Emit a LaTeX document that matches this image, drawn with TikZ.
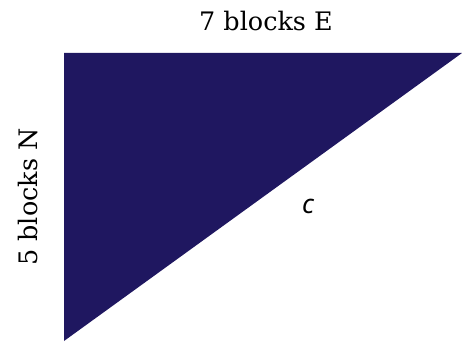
\documentclass[tikz,border=0pt]{standalone}
\usepackage{fontspec}
\setmainfont{DejaVu Serif}
\newfontfamily\hypfont{Noto Sans}
\usepackage{tikz}
\definecolor{navy}{HTML}{1F1760}

\begin{document}
\begin{tikzpicture}[x=0.02cm,y=-0.02cm,
 leg/.style={inner sep=0pt,font=\fontsize{14.5}{17}\selectfont},
 hyp/.style={inner sep=0pt,font=\hypfont\itshape\fontsize{15}{18}\selectfont}]
\useasboundingbox (0,0) rectangle (462,341);
\coordinate (nw) at (64,53);
\coordinate (ne) at (462,53);
\coordinate (sw) at (64,341);
\fill[navy] (nw) -- (ne) -- (sw) -- cycle;

\node[leg] (east) at (266,21) {7 blocks E};
\node[leg,rotate=90] (north) at (28,197) {5 blocks N};
\node[hyp] (c) at (308,206) {c};
\end{tikzpicture}
\end{document}
